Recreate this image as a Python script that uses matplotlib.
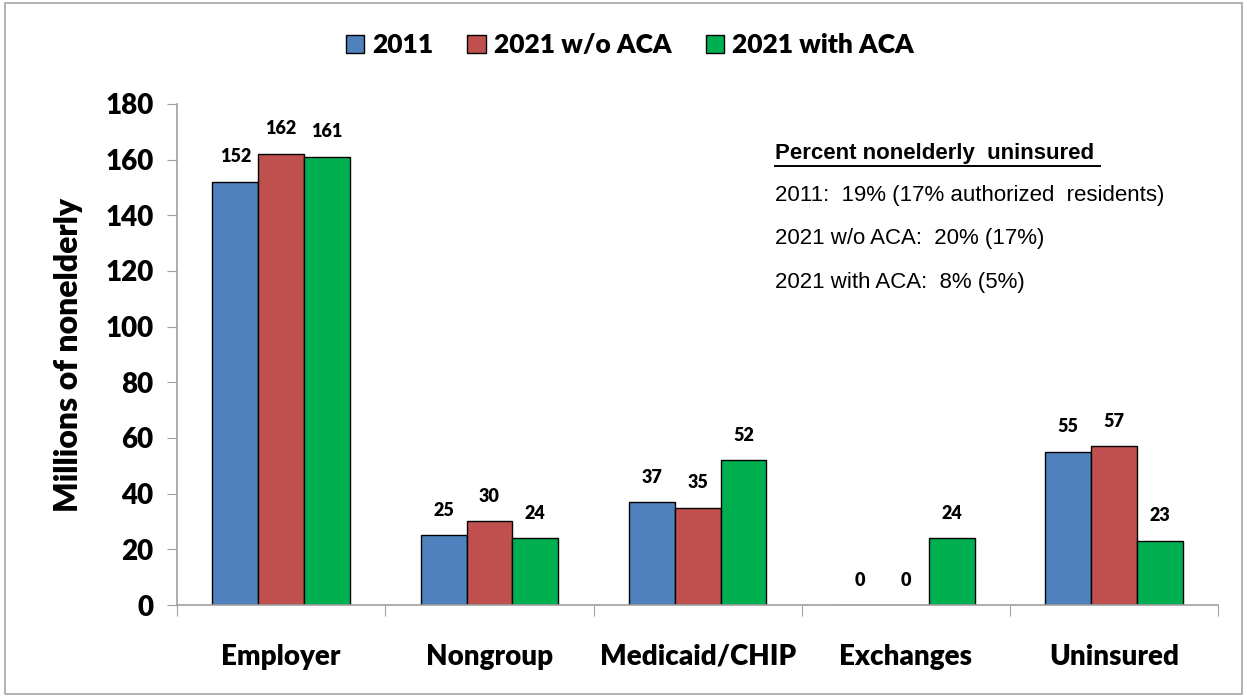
import numpy as np
import matplotlib.pyplot as plt
from matplotlib.patches import Rectangle

# datos
categorias = ["Employer", "Nongroup", "Medicaid/CHIP", "Exchanges", "Uninsured"]
series = ["2011", "2021 w/o ACA", "2021 with ACA"]
v_2011 = [152, 25, 37, 0, 55]
v_2021_sin = [162, 30, 35, 0, 57]
v_2021_con = [161, 24, 52, 24, 23]
colores = ["#4F81BD", "#C0504D", "#00B050"]

notas_titulo = "Percent nonelderly  uninsured"
notas = ["2011:  19% (17% authorized  residents)",
         "2021 w/o ACA:  20% (17%)",
         "2021 with ACA:  8% (5%)"]

fuente = "Lato"
peso = "heavy"

fig = plt.figure(figsize=(12.47, 6.98), dpi=100)
ax = fig.add_axes([0.142, 0.1332, 0.835, 0.718])

x = np.arange(len(categorias))
ancho = 0.22
valores = [v_2011, v_2021_sin, v_2021_con]
for i, (serie, vals, col) in enumerate(zip(series, valores, colores)):
    pos = x + (i - 1) * ancho
    ax.bar(pos, vals, width=ancho, color=col, edgecolor="black",
           linewidth=1.0, label=serie)
    for xp, v in zip(pos, vals):
        ax.annotate(str(v), (xp, v), xytext=(0, 18), textcoords="offset points",
                    ha="center", va="center", fontsize=13, fontweight=peso,
                    family=fuente)

ax.set_xlim(-0.5, len(categorias) - 0.5)
ax.set_ylim(0, 180)
ax.set_yticks(np.arange(0, 181, 20))
ax.set_xticks(np.arange(-0.5, len(categorias) + 0.5, 1.0))
ax.set_xticklabels([])
ax.set_xticks(x, minor=True)
ax.set_xticklabels(categorias, minor=True)
ax.tick_params(axis="x", which="minor", length=0, pad=28, labelsize=20)
ax.tick_params(axis="x", which="major", length=8, color="#A0A0A0", direction="out")
ax.tick_params(axis="y", length=7, pad=10, color="#A0A0A0", labelsize=20, direction="out")
for lab in ax.get_xticklabels(minor=True) + ax.get_yticklabels():
    lab.set_fontweight(peso)
    lab.set_family(fuente)

for lado in ["top", "right"]:
    ax.spines[lado].set_visible(False)
for lado in ["left", "bottom"]:
    ax.spines[lado].set_color("#A0A0A0")
    ax.spines[lado].set_linewidth(1.2)

ax.set_ylabel("Millions of nonelderly", fontsize=23, fontweight=peso,
              family=fuente, labelpad=16)

ax.legend(loc="center", bbox_to_anchor=(0.505, 0.935), bbox_transform=fig.transFigure,
          ncol=3, frameon=False, handlelength=0.7, handleheight=0.7,
          handletextpad=0.3, columnspacing=1.3,
          prop={"family": fuente, "weight": peso, "size": 19})

ax.text(0.574, 0.9, notas_titulo, transform=ax.transAxes, fontsize=16,
        fontweight="bold", family="Liberation Sans", va="center")
ax.plot([0.574, 0.886], [0.877, 0.877], transform=ax.transAxes, color="black", lw=1.4)
for j, t in enumerate(notas):
    ax.text(0.574, 0.818 - j * 0.087, t, transform=ax.transAxes, fontsize=16,
            family="Liberation Sans", va="center")

fig.patches.append(Rectangle((0.004, 0.006), 0.992, 0.99, transform=fig.transFigure,
                             fill=False, edgecolor="#A6A6A6", linewidth=1.2))

fig.savefig("out.png", dpi=100)
